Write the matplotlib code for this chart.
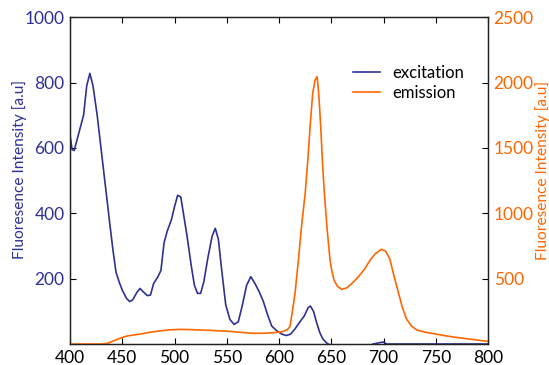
import matplotlib
matplotlib.use("Agg")
import matplotlib.pyplot as plt
import numpy as np

plt.rcParams['font.family'] = ['Lato', 'DejaVu Sans']

# excitation spectrum (left axis)
exc_nm = [400, 402, 404, 408, 413, 416, 419, 422, 426, 430, 434, 438, 441, 444,
          447, 450, 454, 457, 460, 464, 467, 470, 474, 477, 480, 484, 487, 490,
          493, 497, 500, 503, 506, 509, 512, 516, 519, 522, 525, 528, 532, 536,
          539, 542, 545, 549, 553, 557, 561, 565, 569, 573, 577, 581, 585, 589,
          593, 598, 603, 607, 611, 615, 620, 624, 628, 630, 633, 636, 639, 642,
          646, 650, 686, 690, 696, 700, 703, 800]
exc_val = [640, 595, 592, 640, 700, 790, 828, 790, 700, 590, 480, 370, 290, 220,
           190, 165, 140, 130, 135, 158, 170, 160, 148, 150, 185, 205, 225, 310,
           345, 380, 420, 455, 450, 390, 330, 240, 180, 155, 155, 190, 265, 330,
           354, 320, 230, 120, 75, 60, 68, 120, 180, 206, 185, 160, 130, 90,
           55, 40, 30, 26, 30, 45, 68, 85, 112, 116, 100, 65, 35, 15,
           2, -5, -5, 0, 4, 6, 0, 0]

# emission spectrum (right axis)
em_nm = [400, 430, 436, 440, 445, 450, 455, 462, 470, 478, 486, 495, 505, 515,
         525, 535, 545, 555, 565, 575, 585, 595, 603, 608, 610.5, 613, 615.3, 618.5,
         621.5, 625, 627.5, 629.7, 632.2, 634.5, 636.4, 638, 639.9, 641.5, 643.4,
         646, 648.8, 650.5, 652.6, 656, 660, 665,
         670, 676, 682, 687, 692, 698, 702, 706, 710, 714, 718, 722, 727, 732,
         740, 750, 760, 770, 780, 790, 800]
em_val = [0, 0, 5, 18, 35, 50, 62, 70, 80, 92, 100, 108, 112, 110,
          107, 104, 100, 95, 88, 82, 82, 87, 94, 110, 135, 260, 387, 640,
          900, 1150, 1400, 1660, 1917, 2020, 2045, 1917, 1660, 1400, 1152,
          880, 642, 560, 489, 440, 418, 430,
          465, 515, 575, 640, 690, 725, 710, 650, 520, 400, 280, 190, 135, 107,
          90, 76, 62, 50, 40, 30, 20]

blue = '#2E3192'
orange = '#FF6600'

fig = plt.figure(figsize=(5.49, 3.65), dpi=100)
ax = fig.add_axes([0.1275, 0.0575, 0.7615, 0.8955])
ax2 = ax.twinx()

l1, = ax.plot(exc_nm, exc_val, color=blue, lw=1.2, label='excitation')
l2, = ax2.plot(em_nm, em_val, color=orange, lw=1.2, label='emission')

ax.set_xlim(400, 800)
ax.set_ylim(0, 1000)
ax2.set_ylim(0, 2500)
ax.set_xticks([400, 450, 500, 550, 600, 650, 700, 750, 800])
ax.set_yticks([200, 400, 600, 800, 1000])
ax2.set_yticks([500, 1000, 1500, 2000, 2500])

ax.tick_params(axis='x', direction='in', top=True, length=4, labelsize=12.5, pad=4)
ax.tick_params(axis='y', direction='in', length=4, labelsize=12.5, labelcolor=blue, pad=4)
ax2.tick_params(axis='y', direction='in', length=4, labelsize=12.5, labelcolor=orange, pad=4)

ax.set_ylabel('Fluoresence Intensity [a.u]', color=blue, fontsize=11.2)
ax2.set_ylabel('Fluoresence Intensity [a.u]', color=orange, fontsize=11.2)
ax.yaxis.set_label_coords(-0.103, 0.535)
ax2.yaxis.set_label_coords(1.112, 0.53)

for a in (ax, ax2):
    for s in a.spines.values():
        s.set_color('#222222')
        s.set_linewidth(0.9)

ax.legend(handles=[l1, l2], loc='upper left', bbox_to_anchor=(0.662, 0.875),
          frameon=False, fontsize=12, handlelength=1.6, handletextpad=0.7,
          labelspacing=0.25, borderaxespad=0)

fig.savefig('out.png', dpi=100)
